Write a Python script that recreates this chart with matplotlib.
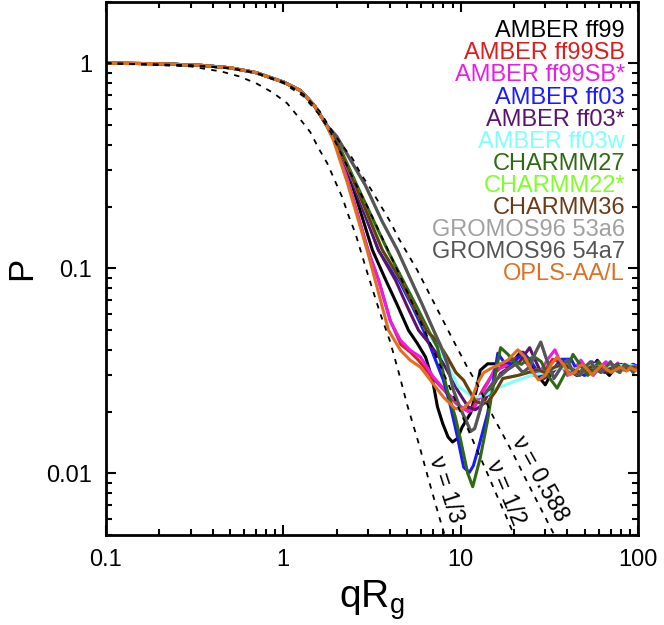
import numpy as np
import matplotlib
matplotlib.use("Agg")
import matplotlib.pyplot as plt
from matplotlib.ticker import LogLocator, FuncFormatter, NullFormatter

plt.rcParams['font.family'] = ['Liberation Sans', 'DejaVu Sans']

# shared Guinier region (all force fields overlap here)
common_x = [0.1, 0.2, 0.35, 0.5, 0.7, 1.0, 1.25, 1.5, 1.75]
common_y = [1.0, 0.995, 0.975, 0.95, 0.9, 0.81, 0.735, 0.62, 0.5]

ff99_x = [2.0, 2.45, 3.18, 3.79, 4.4, 5.08, 5.7, 6.34, 6.95, 7.4, 7.92, 8.5, 9.0, 9.6, 10.2, 11.4, 12.2, 12.9, 14.2, 16.2, 18.5,
          21.8, 24.5, 27.2, 30, 34, 38, 42, 46, 50, 54, 59, 64, 69, 75, 81, 88, 94, 100]
ff99_y = [0.40, 0.254, 0.1226, 0.0872, 0.066, 0.0498, 0.043, 0.0369, 0.0284, 0.0211, 0.0175, 0.0150, 0.0142, 0.0148, 0.0168,
          0.0197, 0.025, 0.0318, 0.0342, 0.0342, 0.033, 0.039, 0.035, 0.030, 0.027, 0.033, 0.035, 0.031, 0.030, 0.033, 0.032,
          0.0356, 0.032, 0.030, 0.033, 0.034, 0.032, 0.033, 0.033]

ff99sb_x = [2.0, 2.35, 3.0, 3.45, 4.0, 4.6, 5.2, 5.8, 7.0, 8.4, 9.5, 10.5, 11.5, 12.5, 13.5, 15, 17, 19.5, 22, 24.5, 27, 30,
            33, 36, 39.5, 43, 47, 51, 55, 60, 65, 70, 76, 82, 88, 94, 100]
ff99sb_y = [0.40, 0.254, 0.1226, 0.0872, 0.056, 0.0425, 0.039, 0.0355, 0.029, 0.0245, 0.0218, 0.0205, 0.0205, 0.023, 0.026,
            0.030, 0.033, 0.036, 0.037, 0.033, 0.030, 0.032, 0.036, 0.035, 0.031, 0.031, 0.034, 0.033, 0.031, 0.032, 0.034,
            0.032, 0.032, 0.033, 0.032, 0.033, 0.033]

ff99sbs_x = [2.0, 2.35, 3.0, 3.45, 4.02, 4.58, 5.2, 5.94, 7.04, 8.4, 10.0, 11.0, 11.8, 13, 14.2, 15.5, 17.5, 20, 22.4, 24,
             25.8, 28, 31, 34, 37, 40, 43.5, 47.6, 52, 56, 61, 66, 71, 77, 82, 88, 94, 100]
ff99sbs_y = [0.40, 0.254, 0.1226, 0.0872, 0.055, 0.0445, 0.0398, 0.0369, 0.0294, 0.0247, 0.0212, 0.020, 0.0205, 0.024,
             0.0275, 0.032, 0.033, 0.035, 0.0385, 0.034, 0.030, 0.031, 0.036, 0.040, 0.034, 0.030, 0.032, 0.0356, 0.032,
             0.030, 0.033, 0.035, 0.032, 0.0345, 0.032, 0.033, 0.034, 0.033]

ff03_x = [2.0, 2.5, 3.44, 4.5, 5.3, 6.18, 6.77, 8.0, 8.78, 9.6, 10.4, 11.2, 11.8, 12.6, 14.2, 15.1, 16.2, 17.5, 19.5, 22.5,
          25, 28, 32, 37, 42, 46, 50, 55, 59, 63, 67, 72, 77, 83, 88, 94, 100]
ff03_y = [0.41, 0.254, 0.1226, 0.0872, 0.066, 0.0498, 0.0411, 0.0284, 0.0211, 0.0150, 0.0107, 0.0101, 0.0109, 0.0133,
          0.0196, 0.0264, 0.0385, 0.035, 0.034, 0.039, 0.035, 0.030, 0.031, 0.036, 0.036, 0.031, 0.030, 0.033, 0.035,
          0.033, 0.031, 0.033, 0.034, 0.032, 0.033, 0.034, 0.033]

ff03s_x = [2.0, 2.5, 3.44, 4.3, 5.0, 5.79, 6.8, 8.0, 9.6, 11.0, 12.1, 13.2, 14.7, 16.8, 19, 21.5, 24.5, 27, 29.5, 33, 37,
           41, 45, 50, 55, 60, 65, 71, 77, 84, 92, 100]
ff03s_y = [0.41, 0.254, 0.1226, 0.0872, 0.065, 0.0498, 0.042, 0.0343, 0.0254, 0.0211, 0.0204, 0.0215, 0.0254, 0.0307,
           0.033, 0.035, 0.041, 0.034, 0.029, 0.031, 0.035, 0.033, 0.030, 0.033, 0.035, 0.032, 0.031, 0.034, 0.033,
           0.032, 0.033, 0.033]

ff03w_x = [2.0, 2.55, 3.6, 4.6, 5.5, 6.4, 7.4, 8.4, 9.7, 11.4, 12.5, 14, 16, 18, 21, 25, 30, 36, 42, 50, 58, 66, 75, 85, 100]
ff03w_y = [0.41, 0.254, 0.1226, 0.0872, 0.066, 0.0498, 0.041, 0.034, 0.0265, 0.024, 0.0236, 0.0242, 0.026, 0.027, 0.0285,
           0.030, 0.031, 0.033, 0.032, 0.033, 0.034, 0.033, 0.033, 0.034, 0.033]

c27_x = [2.0, 2.6, 3.87, 4.73, 5.6, 6.59, 7.4, 8.4, 9.35, 10.0, 10.96, 11.7, 12.9, 14.2, 15.1, 16.8, 18.5, 20, 22, 24, 26,
         28.5, 31, 35, 39, 43, 47, 52, 56, 60, 65, 70, 76, 82, 88, 94, 100]
c27_y = [0.42, 0.254, 0.1226, 0.0872, 0.066, 0.0498, 0.0411, 0.0254, 0.0187, 0.0145, 0.0100, 0.0086, 0.0119, 0.0182,
         0.0254, 0.041, 0.038, 0.035, 0.034, 0.036, 0.037, 0.035, 0.030, 0.026, 0.031, 0.038, 0.034, 0.030, 0.032, 0.035,
         0.032, 0.031, 0.034, 0.032, 0.032, 0.033, 0.033]

# CHARMM22* is hidden under the later curves in the figure
c22s_x = [2.0, 2.55, 3.62, 4.6, 5.4, 6.4, 7.4, 8.4, 9.4, 10.4, 11.0, 12.1, 13.2, 14.2, 15.7, 17.3, 21, 24, 27, 30, 34, 38,
          43, 48, 54, 60, 67, 74, 82, 90, 100]
c22s_y = [0.41, 0.254, 0.1226, 0.0872, 0.066, 0.0498, 0.0442, 0.037, 0.0311, 0.0284, 0.026, 0.0226, 0.0219, 0.0223, 0.0251,
          0.029, 0.030, 0.031, 0.032, 0.031, 0.033, 0.034, 0.032, 0.031, 0.033, 0.033, 0.032, 0.033, 0.032, 0.033, 0.033]

c36_x = [2.0, 2.55, 3.62, 4.6, 5.4, 6.4, 7.4, 8.4, 9.4, 10.4, 11.0, 12.1, 13.2, 14.2, 15.7, 17.3, 21, 24, 27, 30, 34, 38,
         43, 48, 54, 60, 67, 74, 82, 90, 100]
c36_y = [0.41, 0.254, 0.1226, 0.0872, 0.066, 0.0498, 0.044, 0.0369, 0.031, 0.0284, 0.026, 0.0225, 0.0218, 0.0222, 0.025,
         0.029, 0.030, 0.031, 0.032, 0.031, 0.033, 0.034, 0.032, 0.031, 0.033, 0.033, 0.032, 0.033, 0.032, 0.033, 0.033]

g53_x = [2.0, 2.9, 3.6, 4.4, 5.26, 6.1, 7.04, 7.7, 8.4, 9.1, 10.0, 10.9, 11.4, 12.0, 12.9, 13.5, 15.4, 18.4, 20.4, 22.4,
         24.5, 26.5, 28.3, 30.5, 33.6, 37, 40, 43.3, 47, 50.5, 54, 58, 62, 66, 70, 74, 79, 84, 89, 94, 100]
g53_y = [0.44, 0.254, 0.17, 0.1226, 0.0872, 0.066, 0.0498, 0.0421, 0.0344, 0.0255, 0.0206, 0.0176, 0.0161, 0.0166, 0.0205,
         0.024, 0.028, 0.032, 0.034, 0.031, 0.033, 0.039, 0.0435, 0.036, 0.029, 0.033, 0.0355, 0.031, 0.030, 0.033, 0.035,
         0.032, 0.031, 0.033, 0.035, 0.032, 0.031, 0.034, 0.033, 0.031, 0.033]

g54_x = [2.0, 2.9, 3.6, 4.4, 5.26, 6.1, 7.04, 7.7, 8.4, 9.1, 10.0, 10.9, 11.4, 12.0, 12.9, 13.5, 15.4, 18.4, 20.4, 22.4,
         24.5, 26.5, 28.3, 30.5, 33.6, 37, 40, 43.3, 47, 50.5, 54, 58, 62, 66, 70, 74, 79, 84, 89, 94, 100]
g54_y = [0.44, 0.254, 0.17, 0.1226, 0.0872, 0.066, 0.0498, 0.042, 0.0343, 0.0254, 0.0205, 0.0175, 0.0160, 0.0165, 0.0204,
         0.024, 0.028, 0.032, 0.034, 0.031, 0.033, 0.039, 0.0437, 0.036, 0.029, 0.033, 0.0356, 0.031, 0.030, 0.033, 0.035,
         0.032, 0.031, 0.033, 0.035, 0.032, 0.031, 0.034, 0.033, 0.031, 0.033]

opls_x = [1.92, 2.3, 2.97, 3.3, 3.92, 4.58, 5.2, 5.94, 6.77, 8.0, 9.3, 10.2, 11.4, 12.5, 13.5, 14.7, 16.4, 18.4, 21, 23,
          25, 27.5, 30, 32.5, 35, 38, 41, 44, 47, 49, 52, 55, 59, 62.7, 67, 71, 75, 80, 86, 91, 96, 100]
opls_y = [0.42, 0.26, 0.1226, 0.0872, 0.0498, 0.0398, 0.0356, 0.0329, 0.0284, 0.0235, 0.0207, 0.0205, 0.0225, 0.0277,
          0.031, 0.0323, 0.0338, 0.0356, 0.040, 0.037, 0.032, 0.0285, 0.030, 0.034, 0.037, 0.034, 0.0302, 0.031, 0.0335,
          0.0338, 0.032, 0.0302, 0.032, 0.0338, 0.032, 0.0311, 0.032, 0.0329, 0.0315, 0.0328, 0.0318, 0.032]

labels = ["AMBER ff99", "AMBER ff99SB", "AMBER ff99SB*", "AMBER ff03", "AMBER ff03*", "AMBER ff03w",
          "CHARMM27", "CHARMM22*", "CHARMM36", "GROMOS96 53a6", "GROMOS96 54a7", "OPLS-AA/L"]
colors = ["#000000", "#dd1c1c", "#e81ee8", "#1a1aff", "#5a1470", "#80ffff",
          "#2e6a12", "#80ff2a", "#6b3a16", "#a0a0a0", "#555555", "#e07020"]
series = [(ff99_x, ff99_y), (ff99sb_x, ff99sb_y), (ff99sbs_x, ff99sbs_y), (ff03_x, ff03_y), (ff03s_x, ff03s_y),
          (ff03w_x, ff03w_y), (c27_x, c27_y), (c22s_x, c22s_y), (c36_x, c36_y), (g53_x, g53_y), (g54_x, g54_y),
          (opls_x, opls_y)]

# reference scaling curves (nu = 1/3, 1/2, 0.588)
nu13_x = [0.1, 0.3, 0.45, 0.56, 0.7, 0.87, 1.05, 1.22, 1.42, 1.58, 1.77, 1.97, 2.15, 2.33, 2.55, 3.0, 3.5, 4.0, 4.5, 5.0,
          5.8, 6.6, 7.5, 8.3]
nu13_y = [1.0, 0.965, 0.91, 0.864, 0.80, 0.72, 0.638, 0.545, 0.461, 0.385, 0.325, 0.263, 0.222, 0.181, 0.148, 0.093, 0.061,
          0.044, 0.0305, 0.0215, 0.014, 0.0093, 0.0063, 0.0047]
nu12_x = [0.1, 0.3, 0.5, 0.7, 1.0, 1.3, 1.6, 1.85, 2.1, 2.5, 3.0, 4.0, 5.0, 6.0, 8.0, 10, 12, 14, 16, 18, 20]
nu12_y = [1.0, 0.975, 0.945, 0.895, 0.80, 0.69, 0.56, 0.46, 0.368, 0.269, 0.1975, 0.117, 0.0768, 0.054, 0.0308, 0.0198,
          0.0138, 0.0102, 0.0078, 0.0062, 0.0050]
nu588_x = [0.1, 0.3, 0.5, 0.7, 1.0, 1.3, 1.6, 1.84, 2.1, 2.45, 2.72, 3.1, 3.53, 4.02, 4.47, 5.71, 7.04, 8.78, 10.96, 12.5,
           15.35, 16.8, 20, 25, 30, 35]
nu588_y = [1.0, 0.977, 0.948, 0.9, 0.81, 0.705, 0.585, 0.482, 0.407, 0.344, 0.291, 0.245, 0.203, 0.168, 0.140, 0.0974,
           0.0684, 0.0471, 0.0326, 0.0269, 0.0187, 0.0162, 0.0122, 0.0083, 0.0061, 0.0047]
nu_text = ["ν = 1/3", "ν = 1/2", "ν = 0.588"]
nu_text_x = [8.3, 17.9, 27.9]
nu_text_y = [0.0084, 0.0081, 0.0094]
nu_text_rot = [-72, -67, -61]

fig = plt.figure(figsize=(6.64, 6.25), dpi=100)
ax = fig.add_axes([0.1596, 0.144, 0.8012, 0.8536])

for (xs, ys), c in zip(series, colors):
    ax.plot(common_x + xs, common_y + ys, color=c, lw=2.2, solid_joinstyle='round')

for xs, ys in [(nu13_x, nu13_y), (nu12_x, nu12_y), (nu588_x, nu588_y)]:
    ax.plot(xs, ys, color='black', lw=1.3, dashes=(3, 3.5))

for t, tx, ty, r in zip(nu_text, nu_text_x, nu_text_y, nu_text_rot):
    ax.text(tx, ty, t, rotation=r, rotation_mode='anchor', ha='center', va='center', fontsize=16.5)

for i, (lab, c) in enumerate(zip(labels, colors)):
    ax.text(0.9756, 0.9329 - i * 0.04142, lab, color=c, fontsize=17, ha='right', va='baseline',
            transform=ax.transAxes)

ax.set_xscale('log')
ax.set_yscale('log')
ax.set_xlim(0.1, 100)
ax.set_ylim(0.005, 2)

fmt = FuncFormatter(lambda v, p: '%g' % v)
ax.xaxis.set_major_formatter(fmt)
ax.yaxis.set_major_formatter(fmt)
ax.xaxis.set_minor_formatter(NullFormatter())
ax.yaxis.set_minor_formatter(NullFormatter())
ax.yaxis.set_minor_locator(LogLocator(base=10, subs=np.arange(2, 10)))
ax.xaxis.set_minor_locator(LogLocator(base=10, subs=np.arange(2, 10)))

ax.tick_params(which='both', direction='in', top=True, right=True, labelsize=17, width=1.5)
ax.tick_params(which='major', length=7, pad=10)
ax.tick_params(which='minor', length=4)
for s in ax.spines.values():
    s.set_linewidth(2)

ax.set_xlabel("qR$_\\mathregular{g}$", fontsize=28, labelpad=5)
ax.set_ylabel("P", fontsize=25, va='center')
ax.yaxis.set_label_coords(-0.158, 0.5)

fig.savefig("out.png", dpi=100)
